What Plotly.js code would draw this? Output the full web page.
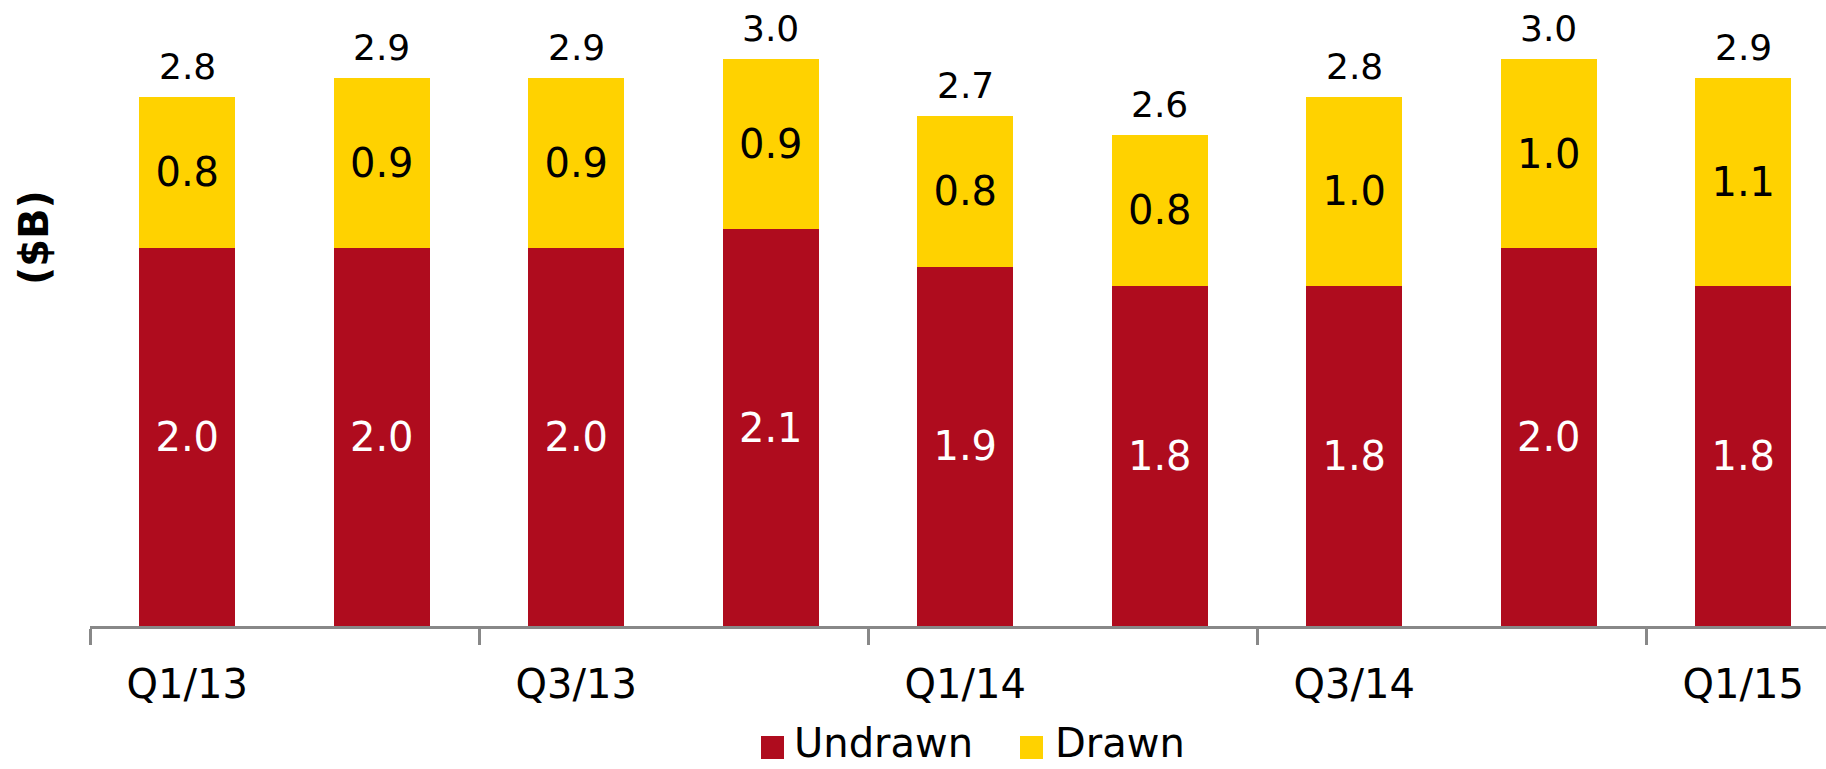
<!DOCTYPE html>
<html>
<head>
<meta charset="utf-8">
<script src="https://cdn.plot.ly/plotly-3.0.1.min.js"></script>
<style>
  html, body { margin: 0; padding: 0; background: #ffffff; }
  #chart { width: 1826px; height: 769px; }
</style>
</head>
<body>
<div id="chart"></div>
<script>
// Quarterly facilities, $B
const categories = ['Q1/13', 'Q2/13', 'Q3/13', 'Q4/13', 'Q1/14', 'Q2/14', 'Q3/14', 'Q4/14', 'Q1/15'];
const undrawn = [2.0, 2.0, 2.0, 2.1, 1.9, 1.8, 1.8, 2.0, 1.8];
const drawn   = [0.8, 0.9, 0.9, 0.9, 0.8, 0.8, 1.0, 1.0, 1.1];
const seriesNames = ['Undrawn', 'Drawn'];

const RED = '#AF0C1E';
const YELLOW = '#FFD200';
const AXIS_GREY = '#888888';
const FONT = 'DejaVu Sans, Verdana, sans-serif';

const W = 1826, H = 769;
const M = { l: 90, r: 0, t: 0, b: 143 };
const plotW = W - M.l - M.r;
const plotH = H - M.t - M.b;
const pxPerCat = 194.5;
const pxPerUnit = 189;

// pixel -> paper helpers for the legend and the axis caption
const px2x = px => (px - M.l) / plotW;
const py2y = py => (M.t + plotH - py) / plotH;

const totals = categories.map((_, i) => undrawn[i] + drawn[i]);

const traces = [
  {
    type: 'bar',
    name: seriesNames[0],
    x: categories,
    y: undrawn,
    marker: { color: RED },
    text: undrawn.map(v => v.toFixed(1)),
    textposition: 'inside',
    insidetextanchor: 'middle',
    textangle: 0,
    textfont: { family: FONT, size: 40, color: '#ffffff' },
    hoverinfo: 'skip',
    showlegend: false
  },
  {
    type: 'bar',
    name: seriesNames[1],
    x: categories,
    y: drawn,
    marker: { color: YELLOW },
    text: drawn.map(v => v.toFixed(1)),
    textposition: 'inside',
    insidetextanchor: 'middle',
    textangle: 0,
    textfont: { family: FONT, size: 40, color: '#000000' },
    hoverinfo: 'skip',
    showlegend: false
  }
];

// totals above each stack
const annotations = categories.map((c, i) => ({
  x: c,
  y: totals[i],
  xref: 'x',
  yref: 'y',
  text: totals[i].toFixed(1),
  showarrow: false,
  xanchor: 'center',
  yanchor: 'bottom',
  yshift: 8,
  font: { family: FONT, size: 36, color: '#000000' }
}));

// axis caption
annotations.push({
  xref: 'paper', yref: 'paper',
  x: px2x(34), y: py2y(238),
  text: '<b>($B)</b>',
  textangle: -90,
  showarrow: false,
  xanchor: 'center', yanchor: 'middle',
  font: { family: FONT, size: 40, color: '#000000' }
});

// legend: swatches + names
const legendColors = [RED, YELLOW];
const swatchLeft = [761, 1020];
const labelLeft = [792, 1053];
const shapes = [];
seriesNames.forEach((name, k) => {
  shapes.push({
    type: 'rect', xref: 'paper', yref: 'paper',
    x0: px2x(swatchLeft[k]), x1: px2x(swatchLeft[k] + 23),
    y0: py2y(759), y1: py2y(736),
    fillcolor: legendColors[k], line: { width: 0 }
  });
  annotations.push({
    xref: 'paper', yref: 'paper',
    x: px2x(labelLeft[k]), y: py2y(768),
    text: name,
    showarrow: false,
    xanchor: 'left', yanchor: 'bottom',
    font: { family: FONT, size: 40, color: '#000000' }
  });
});

const layout = {
  width: W,
  height: H,
  margin: M,
  paper_bgcolor: '#ffffff',
  plot_bgcolor: '#ffffff',
  barmode: 'stack',
  bargap: 1 - 96 / pxPerCat,
  showlegend: false,
  hovermode: false,
  font: { family: FONT, color: '#000000' },
  xaxis: {
    type: 'category',
    range: [-0.5, -0.5 + plotW / pxPerCat],
    tickmode: 'linear',
    tick0: 0,
    dtick: 2,
    tickson: 'boundaries',
    ticks: 'outside',
    ticklen: 16,
    tickwidth: 3,
    tickcolor: AXIS_GREY,
    ticklabelstandoff: 21,
    showline: true,
    linecolor: AXIS_GREY,
    linewidth: 3,
    showgrid: false,
    zeroline: false,
    tickfont: { family: FONT, size: 40, color: '#000000' },
    fixedrange: true
  },
  yaxis: {
    range: [0, plotH / pxPerUnit],
    visible: false,
    showgrid: false,
    zeroline: false,
    fixedrange: true
  },
  annotations: annotations,
  shapes: shapes
};

Plotly.newPlot('chart', traces, layout, { displayModeBar: false, staticPlot: true });
</script>
</body>
</html>
